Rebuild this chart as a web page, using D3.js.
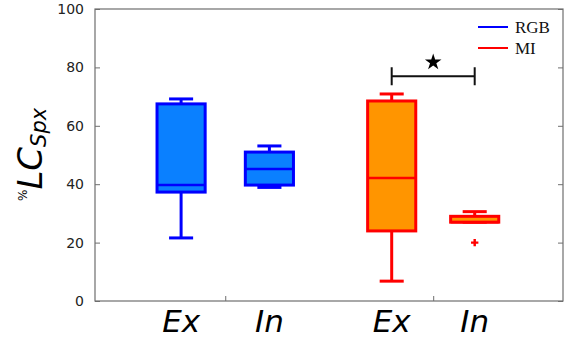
<!DOCTYPE html>
<html>
<head>
<meta charset="utf-8">
<script src="https://cdn.jsdelivr.net/npm/d3@7"></script>
<style>
  body { margin: 0; background: #fff; }
  svg { display: block; }
</style>
</head>
<body>
<script>
var w = 566
var h = 339

// groups on the x axis
var labels = [ "Ex", "In", "Ex", "In" ];
var positions = [ 0.975, 1.975, 3.36, 4.3 ];
var separators = [ 1.475, 3.83 ];
var series = [ "RGB", "RGB", "MI", "MI" ];

// box stats
var whiskLow  = [ 21.6, 38.9, 6.8, 27.0 ];
var q1        = [ 37.3, 39.7, 24.0, 27.0 ];
var median    = [ 39.7, 45.2, 42.1, 27.0 ];
var q3        = [ 67.5, 51.0, 68.5, 29.0 ];
var whiskHigh = [ 69.2, 53.1, 70.9, 30.6 ];
var outliers  = [ [], [], [], [ 20.0 ] ];

var yTicks = [ 0, 20, 40, 60, 80, 100 ];
var legendNames = [ "RGB", "MI" ];
var sigPair = [ 2, 3 ];
var sigLevel = 77;

var stroke = { RGB: "#0000ff", MI: "#ff0000" };
var fill = { RGB: "#0a80ff", MI: "#ff9500" };

var plotL = 95, plotR = 563, plotT = 9, plotB = 301;

var x = d3.scaleLinear().domain([0, 5.3]).range([plotL, plotR]);
var y = d3.scaleLinear().domain([0, 100]).range([plotB, plotT]);
var boxW = 0.545;

var svg = d3.select("body").append("svg")
    .attr("width", w)
    .attr("height", h);

// frame
svg.append("rect")
    .attr("x", plotL).attr("y", plotT)
    .attr("width", plotR - plotL).attr("height", plotB - plotT)
    .attr("fill", "none")
    .attr("stroke", "#6e6e6e")
    .attr("stroke-width", 1.2);

// left axis, ticks pointing inward
var yAxis = svg.append("g")
    .attr("transform", "translate(" + plotL + ",0)")
    .call(d3.axisLeft(y).tickValues(yTicks).tickSize(-5).tickPadding(11));
yAxis.select(".domain").remove();
yAxis.selectAll("line").attr("stroke", "#6e6e6e");
yAxis.selectAll("text")
    .style("font-family", "DejaVu Sans")
    .style("font-size", "14px")
    .attr("fill", "#222");

// right axis ticks
var yAxisR = svg.append("g")
    .attr("transform", "translate(" + plotR + ",0)")
    .call(d3.axisRight(y).tickValues(yTicks).tickSize(-5).tickFormat(""));
yAxisR.select(".domain").remove();
yAxisR.selectAll("line").attr("stroke", "#6e6e6e");

// bottom separators
var xAxis = svg.append("g")
    .attr("transform", "translate(0," + plotB + ")")
    .call(d3.axisBottom(x).tickValues(separators).tickSize(-5).tickFormat(""));
xAxis.select(".domain").remove();
xAxis.selectAll("line").attr("stroke", "#6e6e6e");

// group labels
svg.selectAll("text.xlab").data(labels).enter()
  .append("text")
    .attr("class", "xlab")
    .attr("x", function(d, i) { return x(positions[i]); })
    .attr("y", 332)
    .attr("text-anchor", "middle")
    .style("font-family", "DejaVu Sans")
    .style("font-style", "oblique")
    .style("font-size", "31px")
    .text(function(d) { return d; });

// y label
var yl = svg.append("text")
    .attr("transform", "translate(42,201) rotate(-90)")
    .style("font-family", "DejaVu Sans")
    .attr("fill", "#000");
yl.append("tspan").attr("dy", -15).style("font-size", "12px").text("%");
yl.append("tspan").attr("dy", 15).style("font-size", "34px").style("font-style", "oblique").text("LC");
yl.append("tspan").attr("dy", 4).style("font-size", "21px").style("font-style", "oblique").text("Spx");

// boxes
var g = svg.selectAll("g.box").data(labels).enter()
  .append("g")
    .attr("class", "box");

g.each(function(d, i) {
  var s = d3.select(this);
  var cx = x(positions[i]);
  var half = (x(boxW) - x(0)) / 2;
  var c = stroke[series[i]];
  // whiskers
  s.append("line")
      .attr("x1", cx).attr("x2", cx)
      .attr("y1", y(whiskHigh[i])).attr("y2", y(q3[i]))
      .attr("stroke", c).attr("stroke-width", 3);
  s.append("line")
      .attr("x1", cx).attr("x2", cx)
      .attr("y1", y(whiskLow[i])).attr("y2", y(q1[i]))
      .attr("stroke", c).attr("stroke-width", 3);
  s.selectAll("line.cap").data([whiskHigh[i], whiskLow[i]]).enter()
    .append("line")
      .attr("class", "cap")
      .attr("x1", cx - half / 2).attr("x2", cx + half / 2)
      .attr("y1", function(v) { return y(v); })
      .attr("y2", function(v) { return y(v); })
      .attr("stroke", c).attr("stroke-width", 3);
  // box
  s.append("rect")
      .attr("x", cx - half)
      .attr("y", y(q3[i]))
      .attr("width", 2 * half)
      .attr("height", Math.max(y(q1[i]) - y(q3[i]), 1))
      .attr("fill", fill[series[i]])
      .attr("stroke", c).attr("stroke-width", 3);
  s.append("line")
      .attr("x1", cx - half).attr("x2", cx + half)
      .attr("y1", y(median[i])).attr("y2", y(median[i]))
      .attr("stroke", c)
      .attr("stroke-width", 2.5);
  // outliers
  s.selectAll("path.out").data(outliers[i]).enter()
    .append("path")
      .attr("class", "out")
      .attr("transform", function(v) { return "translate(" + cx + "," + y(v) + ")"; })
      .attr("d", d3.symbol(d3.symbolCross).size(30))
      .attr("fill", c);
});

// significance bracket
var bx1 = x(positions[sigPair[0]]), bx2 = x(positions[sigPair[1]]);
var by = y(sigLevel);
svg.append("path")
    .attr("d", "M" + bx1 + "," + (by - 9) + "V" + (by + 9) + "M" + bx1 + "," + by + "H" + bx2 + "M" + bx2 + "," + (by - 9) + "V" + (by + 9))
    .attr("fill", "none")
    .attr("stroke", "#111")
    .attr("stroke-width", 2);
svg.append("path")
    .attr("transform", "translate(" + ((bx1 + bx2) / 2) + "," + (by - 14) + ")")
    .attr("d", d3.symbol(d3.symbolStar).size(85))
    .attr("fill", "#000");

// legend
var lg = svg.selectAll("g.legend").data(legendNames).enter()
  .append("g")
    .attr("class", "legend")
    .attr("transform", function(d, i) { return "translate(478," + (27 + i * 21) + ")"; });
lg.append("line")
    .attr("x1", 0).attr("x2", 30)
    .attr("stroke", function(d) { return stroke[d]; })
    .attr("stroke-width", 2);
lg.append("text")
    .attr("x", 37)
    .attr("y", 6)
    .style("font-family", "Liberation Serif")
    .style("font-size", "17px")
    .attr("fill", "#111")
    .text(function(d) { return d; });
</script>
</body>
</html>
